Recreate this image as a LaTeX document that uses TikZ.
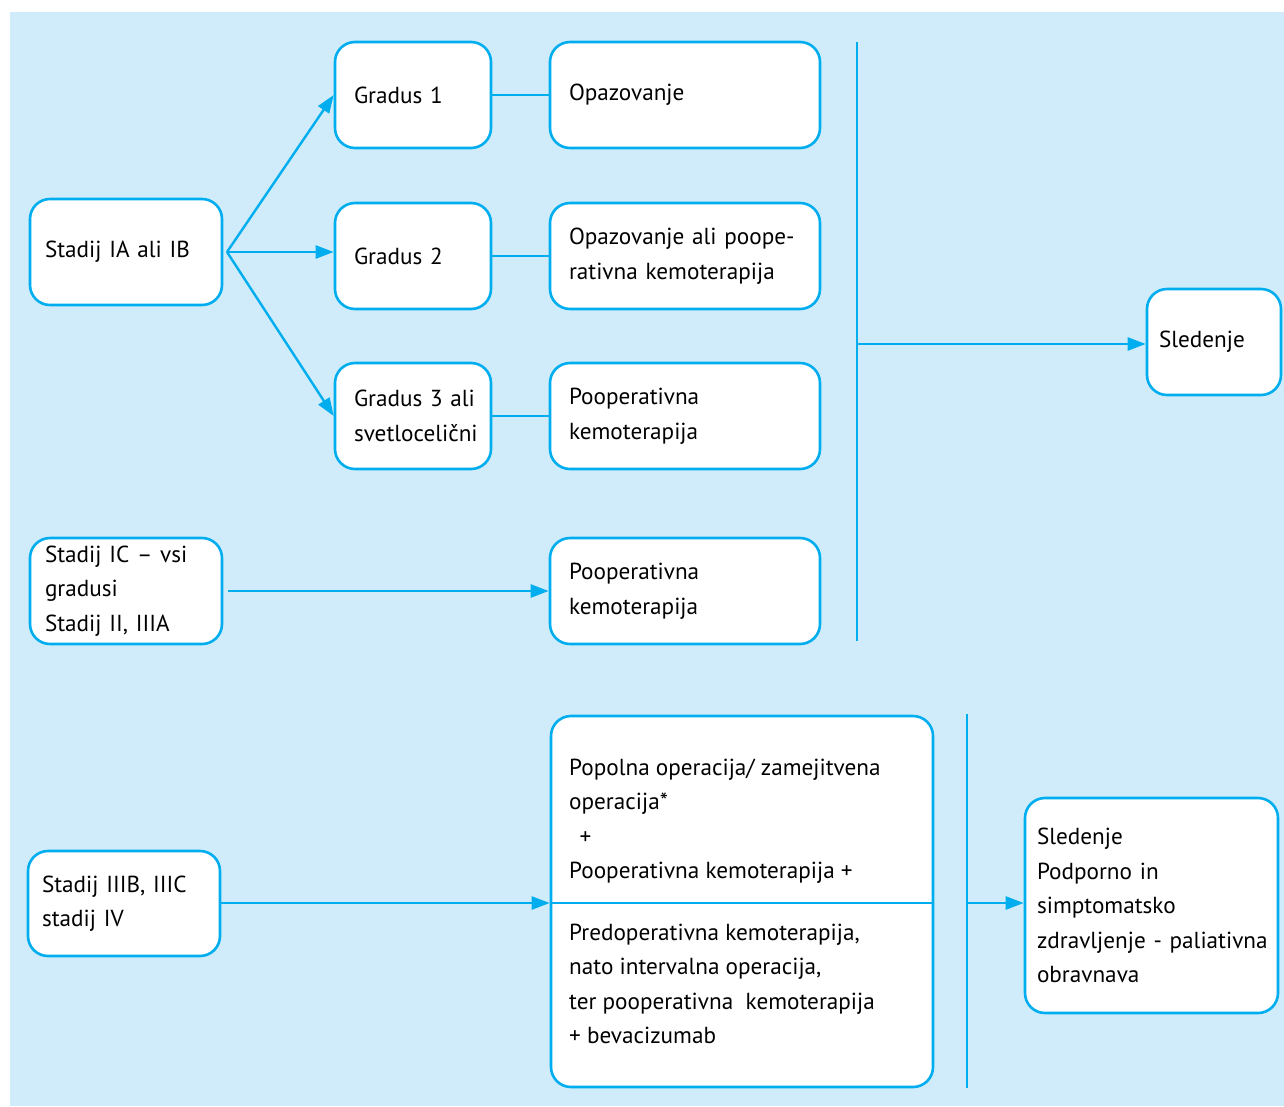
\documentclass[tikz,border=0pt]{standalone}
\usepackage{fontspec}
\setmainfont{PT Sans}
\usetikzlibrary{arrows.meta,calc}
\definecolor{bgblue}{HTML}{D0ECFA}
\definecolor{lineblue}{HTML}{00AEEF}
\newcommand{\nbr}[1]{\mbox{#1}}
\tikzset{
  box/.style={draw=lineblue, line width=2.6pt, fill=white, rounded corners=20pt,
    align=left, anchor=center, inner xsep=0pt, inner ysep=0pt},
  conn/.style={draw=lineblue, line width=2.4pt},
  arr/.style={conn, -{Triangle[length=18pt,width=13pt]}},
  txt/.style={font=\fontsize{23.2}{34.5}\selectfont}
}
\begin{document}
\begin{tikzpicture}[x=1pt,y=-1pt]
\useasboundingbox (0,0) rectangle (1284,1106);
\fill[white] (0,0) rectangle (1284,1106);
\fill[bgblue] (10,12) rectangle (1284,1106);

% boxes: centre, size
\node[box, minimum width=192pt, minimum height=106pt, text width=162pt, txt] (s1) at (126,252) {\nbr{Stadij IA ali IB}};
\node[box, minimum width=156pt, minimum height=106pt, text width=118pt, txt] (g1) at (413,95) {\nbr{Gradus 1}};
\node[box, minimum width=156pt, minimum height=106pt, text width=118pt, txt] (g2) at (413,256) {\nbr{Gradus 2}};
\node[box, minimum width=156pt, minimum height=106pt, text width=118pt, txt] (g3) at (413,416) {\nbr{Gradus 3 ali}\\\nbr{svetloceli\v{c}ni}};
\node[box, minimum width=270pt, minimum height=106pt, text width=232pt, txt] (o1) at (685,95) {\nbr{Opazovanje}};
\node[box, minimum width=270pt, minimum height=106pt, text width=232pt, txt] (o2) at (685,256) {\nbr{Opazovanje ali poope-}\\\nbr{rativna kemoterapija}};
\node[box, minimum width=270pt, minimum height=106pt, text width=232pt, txt] (o3) at (685,416) {\nbr{Pooperativna}\\\nbr{kemoterapija}};
\node[box, minimum width=192pt, minimum height=106pt, text width=162pt, txt] (s2) at (126,591) {\nbr{Stadij IC -- vsi}\\\nbr{gradusi}\\\nbr{Stadij II, IIIA}};
\node[box, minimum width=270pt, minimum height=106pt, text width=232pt, txt] (o4) at (685,591) {\nbr{Pooperativna}\\\nbr{kemoterapija}};
\node[box, minimum width=134pt, minimum height=106pt, text width=110pt, txt] (sl) at (1214,342) {\nbr{Sledenje}};
\node[box, minimum width=192pt, minimum height=105pt, text width=164pt, txt] (s3) at (124,903.5) {\nbr{Stadij IIIB, IIIC}\\\nbr{stadij IV}};
\node[box, minimum width=382pt, minimum height=371pt] (big) at (742,901.5) {};
\node[box, minimum width=253pt, minimum height=215pt, text width=229pt, txt] (sp) at (1151.5,905.5) {\nbr{Sledenje}\\\nbr{Podporno in}\\\nbr{simptomatsko}\\\nbr{zdravljenje - paliativna}\\\nbr{obravnava}};

% text inside the big box
\node[txt, align=left, anchor=west, inner sep=0pt] (bigtop) at (569,821) {Popolna operacija/ zamejitvena\\operacija*\\\hspace*{0.45em}+\\Pooperativna kemoterapija +};
\node[txt, align=left, anchor=west, inner sep=0pt] (bigbot) at (569,984) {Predoperativna kemoterapija,\\nato intervalna operacija,\\ter pooperativna\ \ kemoterapija\\+ bevacizumab};

% divider in the big box
\coordinate (dl) at (big.west |- 0,903);
\coordinate (dr) at (big.east |- 0,903);
\draw[conn] (dl) -- (dr);

% fan from stage IA/IB
\coordinate (fan) at (227,252);
\draw[arr] (fan) -- (g1.west);
\draw[arr] (fan) -- (g2.west |- fan);
\draw[arr] (fan) -- (g3.west);

% gradus to treatment
\draw[conn] (g1.east) -- (o1.west);
\draw[conn] (g2.east) -- (o2.west);
\draw[conn] (g3.east) -- (o3.west);

% stage IC
\coordinate (s2o) at ([xshift=5pt]s2.east);
\draw[arr] (s2o) -- (o4.west);

% upper collector bar
\coordinate (bt) at (857,42);
\coordinate (bb) at (857,641);
\coordinate (bm) at (857,344);
\draw[conn] (bt) -- (bb);
\draw[arr] (bm) -- (bm -| sl.west);

% stage IIIB
\draw[arr] (s3.east |- 0,903) -- (big.west |- 0,903);

% lower collector bar
\coordinate (ct) at (967,714);
\coordinate (cb) at (967,1088);
\coordinate (cm) at (967,903);
\draw[conn] (ct) -- (cb);
\draw[arr] (cm) -- (cm -| sp.west);
\end{tikzpicture}
\end{document}
